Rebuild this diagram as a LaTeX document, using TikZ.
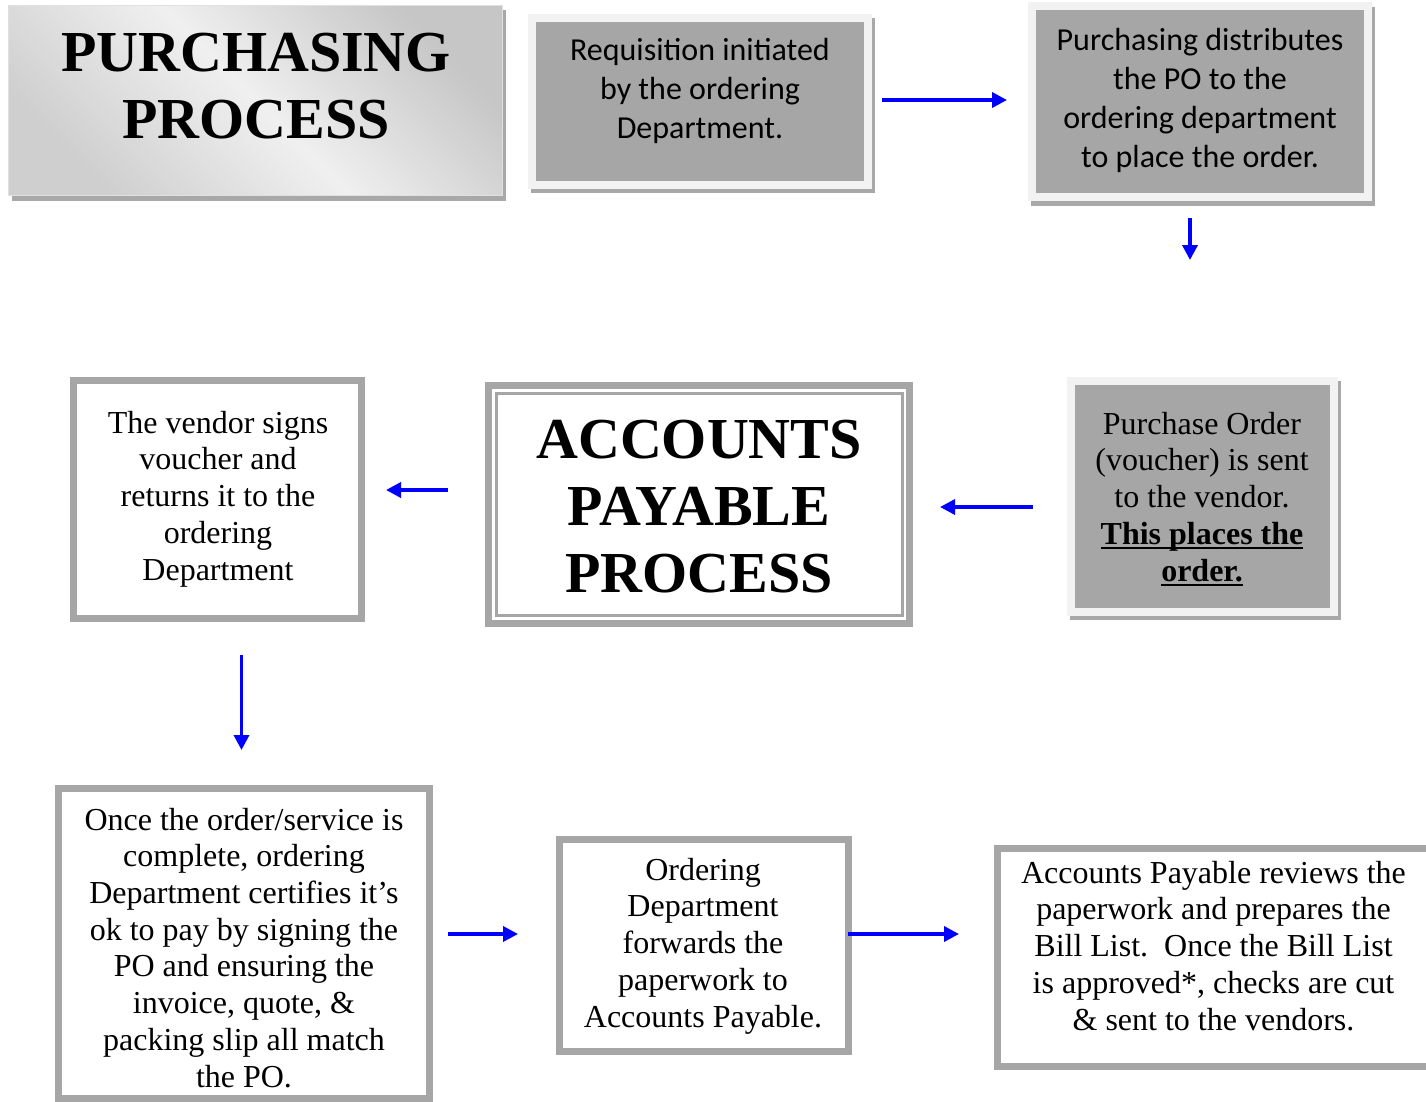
\documentclass[tikz,border=0pt]{standalone}
\usepackage{fontspec}
\setmainfont{Liberation Serif}
\newfontfamily\calfont{Carlito}
\usetikzlibrary{arrows.meta}
\definecolor{boxgray}{HTML}{A6A6A6}
\definecolor{framelight}{HTML}{F2F2F2}
\definecolor{shadowgray}{HTML}{A8A8A8}
\definecolor{arrowblue}{HTML}{0000FF}
\newcommand\myul[1]{\setbox0\hbox{#1}\rlap{\rule[-5pt]{\wd0}{2.5pt}}\box0}
\begin{document}
\begin{tikzpicture}[x=1pt,y=-1pt,
 flow/.style={draw=arrowblue, line width=3.5pt, -{Triangle[length=15pt,width=15pt]}},
 whitebox/.style={draw=boxgray, line width=7pt, fill=white, rectangle, inner sep=0pt},
 graybox/.style={draw=framelight, line width=8pt, fill=boxgray, rectangle, inner sep=0pt},
 shadowbox/.style={fill=shadowgray},
 timestext/.style={font=\fontsize{32}{36.7}\selectfont, align=center, inner sep=0pt, anchor=base},
 caltext/.style={font=\calfont\fontsize{32}{39}\selectfont, align=center, inner sep=0pt, anchor=base},
 titletext/.style={font=\bfseries\fontsize{58}{67}\selectfont, align=center, inner sep=0pt, anchor=base},
]
\useasboundingbox (0,0) rectangle (1426,1101);
\clip (0,0) rectangle (1426,1101);
\fill[white] (0,0) rectangle (1426,1101);

% ---------- title box ----------
\fill[shadowbox] (12,10) rectangle (506,201);
\node[rectangle, inner sep=0pt, minimum width=494pt, minimum height=190pt,
      draw=white!88!black, line width=1pt,
      shading=axis, top color=gray!45, bottom color=gray!38, middle color=gray!12, shading angle=-45]
      (ptitle) at (255,100) {};
\node[titletext] (ptitletext) at (256,138) {PURCHASING\\PROCESS};

% ---------- gray boxes ----------
\node[graybox, minimum width=336pt, minimum height=167pt] (req) at (700,101) {};
\fill[shadowbox] ([shift={(3,4)}]req.south west) rectangle ([shift={(3,4)}]req.north east);
\node[graybox, minimum width=336pt, minimum height=167pt] (req) at (700,101) {};
\node[caltext] (reqtext) at (700,138) {Requisition initiated\\by the ordering\\Department.};

\node[graybox, minimum width=336pt, minimum height=191pt] (dist) at (1200,101.5) {};
\fill[shadowbox] ([shift={(3,5)}]dist.south west) rectangle ([shift={(3,5)}]dist.north east);
\node[graybox, minimum width=336pt, minimum height=191pt] (dist) at (1200,101.5) {};
\node[caltext] (disttext) at (1200,167) {Purchasing distributes\\the PO to the\\ordering department\\to place the order.};

\node[graybox, minimum width=263.5pt, minimum height=230.5pt] (po) at (1202.25,496.25) {};
\fill[shadowbox] ([shift={(3,4)}]po.south west) rectangle ([shift={(3,4)}]po.north east);
\node[graybox, minimum width=263.5pt, minimum height=230.5pt] (po) at (1202.25,496.25) {};
\node[timestext] (potext) at (1202,581) {Purchase Order\\(voucher) is sent\\to the vendor.\\\myul{\bfseries This places the}\\\myul{\bfseries order.}};

% ---------- accounts payable title ----------
\node[whitebox, minimum width=421pt, minimum height=238pt] (ap) at (699,504.5) {};
\draw[boxgray, line width=3pt] (496.5,393) rectangle (902.5,615);
\node[titletext] (aptext) at (699,592) {ACCOUNTS\\PAYABLE\\PROCESS};

% ---------- white boxes ----------
\node[whitebox, minimum width=288pt, minimum height=238pt] (vendor) at (217.5,499.5) {};
\node[timestext] (vendortext) at (218,580) {The vendor signs\\voucher and\\returns it to the\\ordering\\Department};

\node[whitebox, minimum width=371pt, minimum height=309.5pt] (once) at (244,943.25) {};
\node[timestext] (oncetext) at (244,1087) {Once the order/service is\\complete, ordering\\Department certifies it’s\\ok to pay by signing the\\PO and ensuring the\\invoice, quote, \&\\packing slip all match\\the PO.};

\node[whitebox, minimum width=289.5pt, minimum height=212pt] (fwd) at (703.75,945) {};
\node[timestext] (fwdtext) at (703,1027) {Ordering\\Department\\forwards the\\paperwork to\\Accounts Payable.};

\node[whitebox, minimum width=432.5pt, minimum height=218pt] (apr) at (1213.75,957) {};
\node[timestext] (aprtext) at (1213.5,1030) {Accounts Payable reviews the\\paperwork and prepares the\\Bill List.\ \ Once the Bill List\\is approved*, checks are cut\\\& sent to the vendors.};

% ---------- arrows ----------
\draw[flow, shorten <=10pt, shorten >=21pt] ([yshift=1pt]req.east) -- ([yshift=1.5pt]dist.west);
\draw[flow, shorten <=17pt, shorten >=117pt] ([xshift=-10pt]dist.south) -- ([xshift=-12.25pt]po.north);
\draw[flow, shorten <=34pt, shorten >=27pt] ([yshift=-10.75pt]po.west) -- ([yshift=-2.5pt]ap.east);
\draw[flow, shorten <=37pt, shorten >=21pt] ([yshift=14.5pt]ap.west) -- ([yshift=9.5pt]vendor.east);
\draw[flow, shorten <=33pt, shorten >=35pt] ([xshift=24pt]vendor.south) -- ([xshift=-2.5pt]once.north);
\draw[flow, shorten <=15pt, shorten >=37.5pt] ([yshift=9.25pt]once.east) -- ([yshift=11pt]fwd.west);
\draw[flow, shorten <=-4pt, shorten >=35pt] ([yshift=11pt]fwd.east) -- ([yshift=23pt]apr.west);
\end{tikzpicture}
\end{document}
